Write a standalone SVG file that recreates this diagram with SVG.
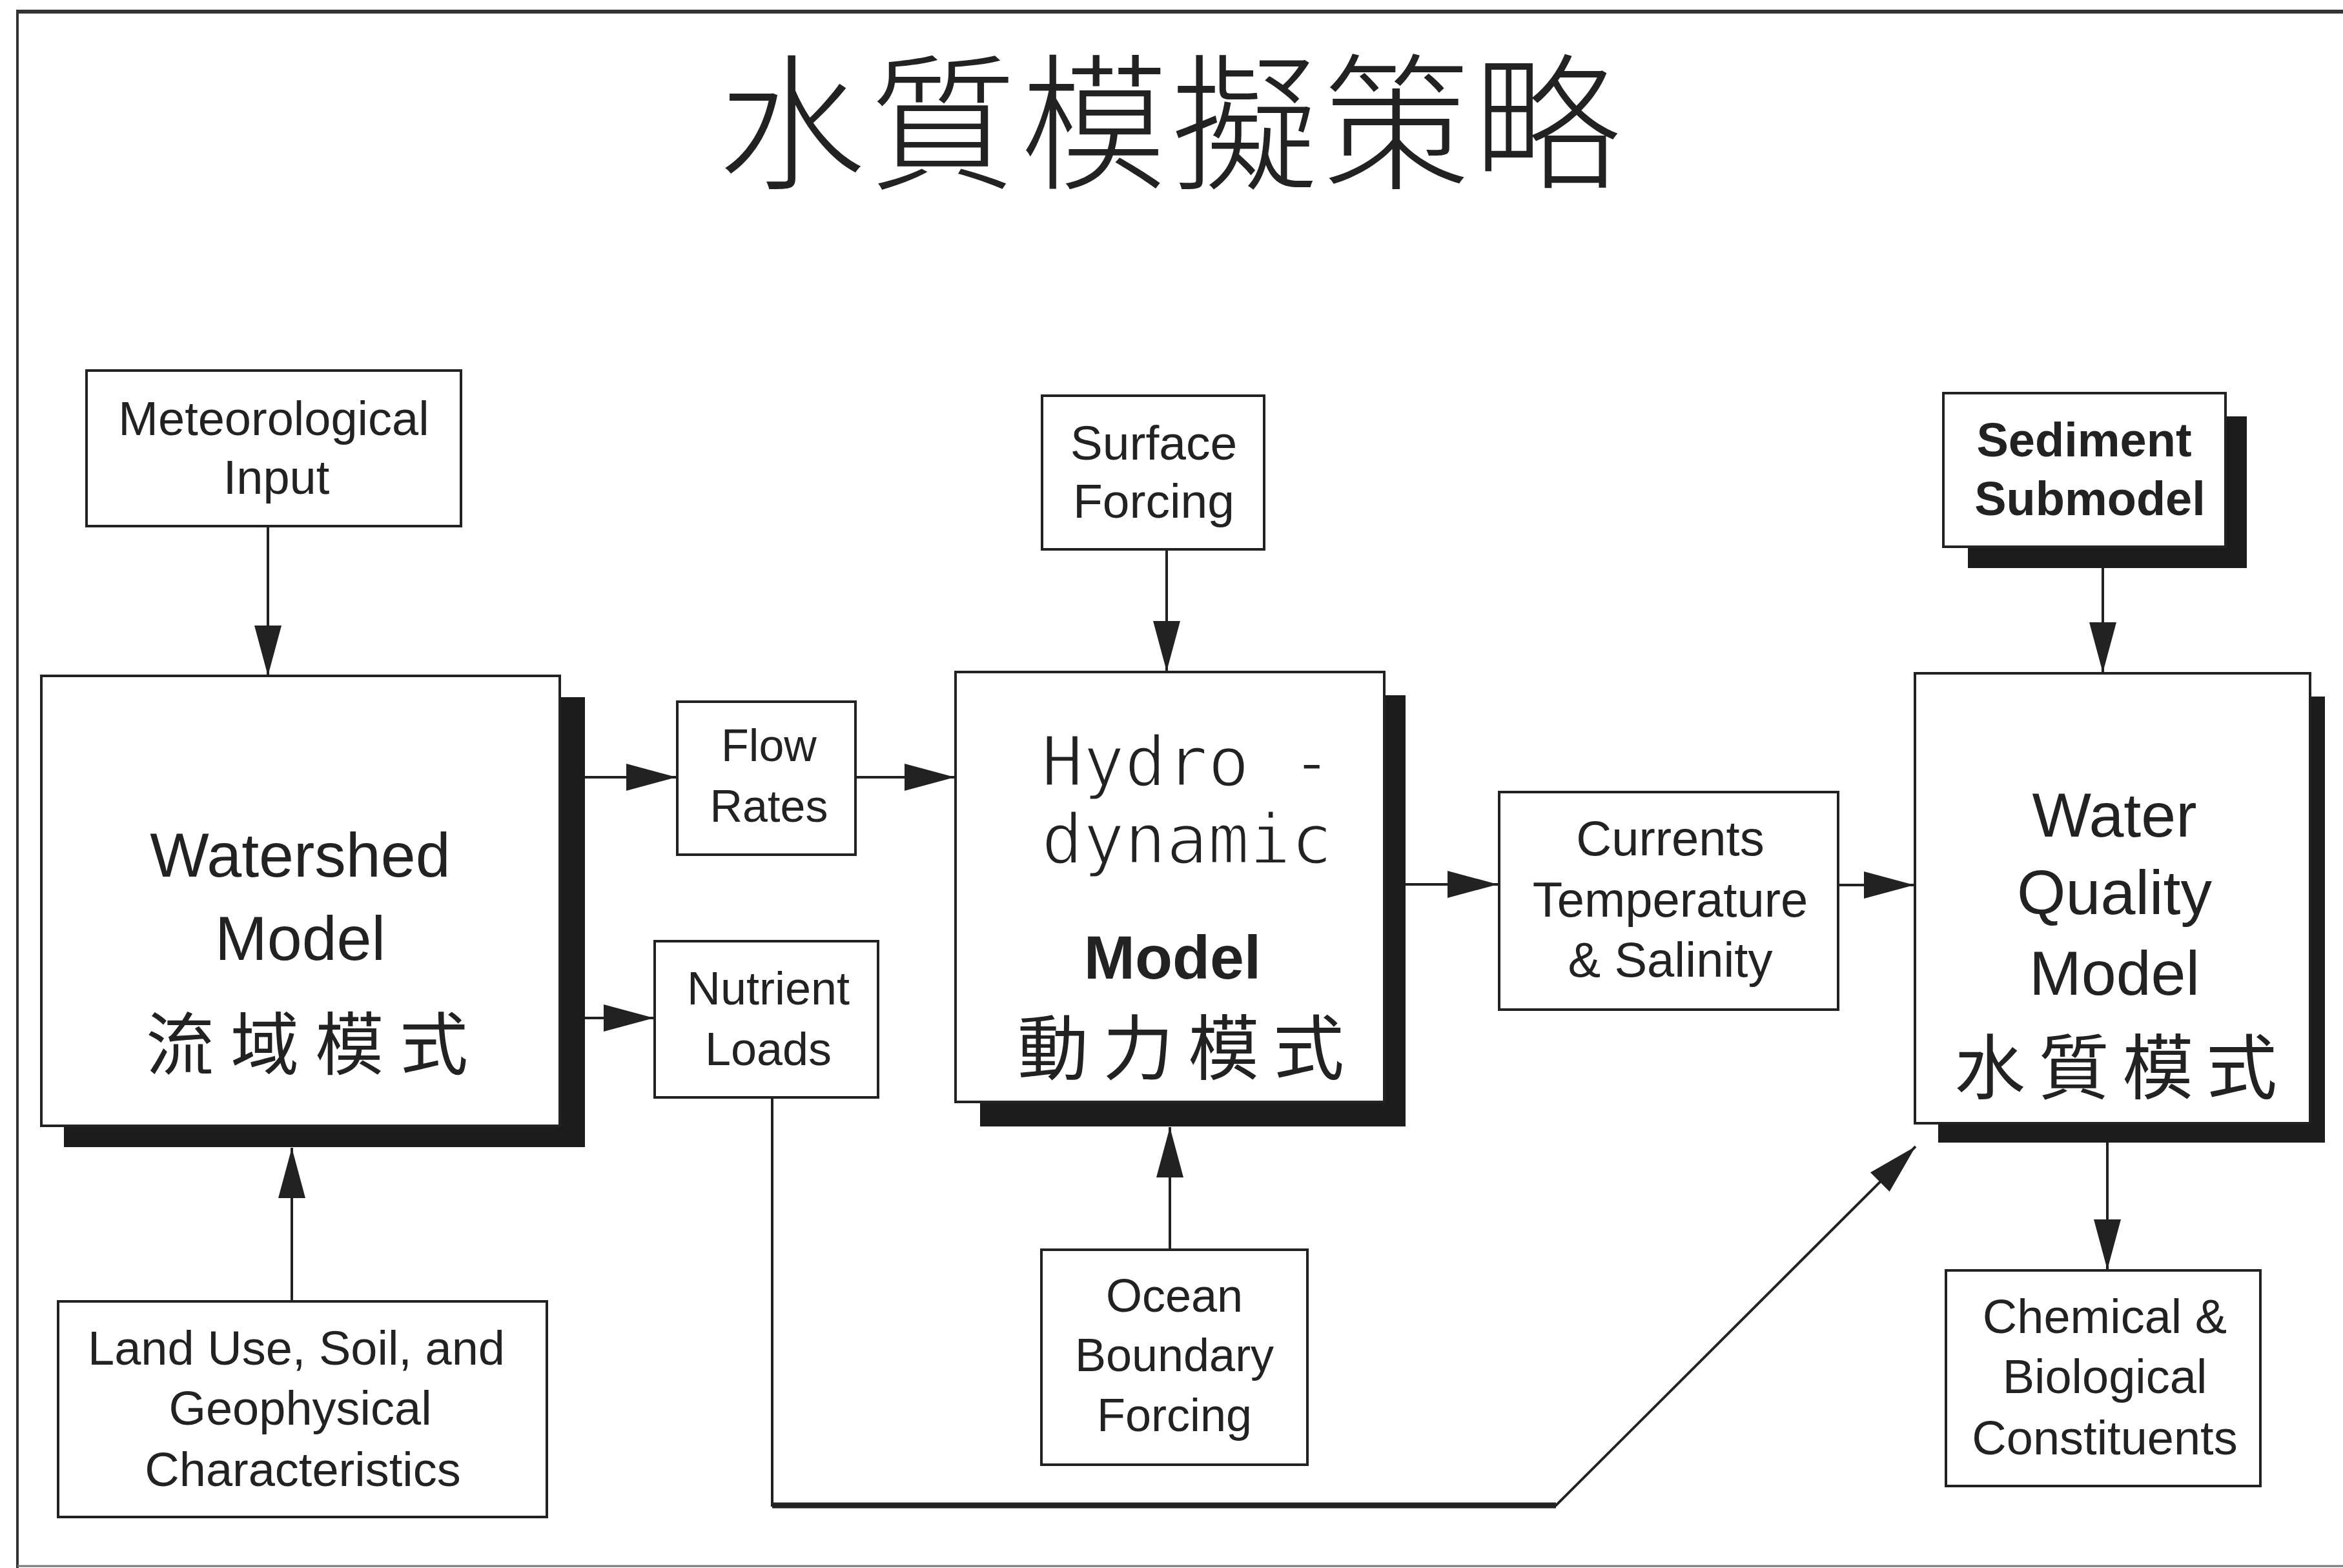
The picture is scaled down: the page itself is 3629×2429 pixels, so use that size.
<svg xmlns="http://www.w3.org/2000/svg" width="3629" height="2429" viewBox="0 0 3629 2429">
<style>
.box{fill:#fff;stroke:#222;stroke-width:4}
.sh{fill:#1c1c1c}
.t{font-family:"Liberation Sans",Arial,sans-serif;fill:#222;text-anchor:middle}
.s{font-size:74px}
.b{font-size:97px}
.bold{font-weight:bold}
.mono{font-family:"DejaVu Sans Mono","Liberation Mono",monospace;font-size:107px;fill:#222;stroke:#fff;stroke-width:3px}
.cjk{font-family:"Noto Sans CJK TC","Noto Sans CJK SC",sans-serif;fill:#222;text-anchor:middle}
.ln{fill:none;stroke:#222;stroke-width:4}
</style>
<defs>
<marker id="ah" markerUnits="userSpaceOnUse" markerWidth="80" markerHeight="46" viewBox="0 0 80 46" refX="78" refY="23" orient="auto">
<path d="M0,2 L78,23 L0,44 Z" fill="#222"/>
</marker>
</defs>
<rect width="3629" height="2429" fill="#fff"/>
<g id="frame">
<line x1="25" y1="18" x2="3629" y2="18" stroke="#333" stroke-width="6"/>
<line x1="27" y1="18" x2="27" y2="2429" stroke="#333" stroke-width="4"/>
<line x1="27" y1="2426" x2="3629" y2="2426" stroke="#777" stroke-width="3"/>
</g>
<g id="title">
<text class="cjk" x="1814" y="276" font-size="228" font-weight="300" letter-spacing="6">水質模擬策略</text>
</g>
<g id="connectors">
<line class="ln" x1="415" y1="815" x2="415" y2="1047" marker-end="url(#ah)"/>
<line class="ln" x1="452" y1="2016" x2="452" y2="1778" marker-end="url(#ah)"/>
<line class="ln" x1="906" y1="1204" x2="1048" y2="1204" marker-end="url(#ah)"/>
<line class="ln" x1="1325" y1="1204" x2="1479" y2="1204" marker-end="url(#ah)"/>
<line class="ln" x1="906" y1="1577" x2="1013" y2="1577" marker-end="url(#ah)"/>
<path class="ln" d="M1196,1700 L1196,2332 L2410,2332 L2967,1776" marker-end="url(#ah)"/>
<line x1="1196" y1="2332" x2="2410" y2="2332" stroke="#222" stroke-width="9"/>
<line class="ln" x1="1807" y1="851" x2="1807" y2="1040" marker-end="url(#ah)"/>
<line class="ln" x1="1812" y1="1936" x2="1812" y2="1746" marker-end="url(#ah)"/>
<line class="ln" x1="2177" y1="1370" x2="2320" y2="1370" marker-end="url(#ah)"/>
<line class="ln" x1="2847" y1="1371" x2="2965" y2="1371" marker-end="url(#ah)"/>
<line class="ln" x1="3257" y1="880" x2="3257" y2="1042" marker-end="url(#ah)"/>
<line class="ln" x1="3264" y1="1770" x2="3264" y2="1967" marker-end="url(#ah)"/>
</g>
<g id="meteorological">
<rect class="box" x="134" y="574" width="580" height="241"/>
<text class="t s" x="424" y="674" font-size="75">Meteorological</text>
<text class="t s" x="428" y="765" font-size="75">Input</text>
</g>
<g id="watershed">
<rect class="sh" x="99" y="1080" width="807" height="697"/>
<rect class="box" x="64" y="1047" width="803" height="697"/>
<text class="t b" x="465" y="1358">Watershed</text>
<text class="t b" x="465" y="1487">Model</text>
<text class="cjk" x="488" y="1656" font-size="106" letter-spacing="25">流域模式</text>
</g>
<g id="landuse">
<rect class="box" x="90" y="2016" width="757" height="334"/>
<text class="t s" x="459" y="2114">Land Use, Soil, and</text>
<text class="t s" x="465" y="2207">Geophysical</text>
<text class="t s" x="469" y="2302">Characteristics</text>
</g>
<g id="flowrates">
<rect class="box" x="1049" y="1087" width="276" height="237"/>
<text class="t" x="1191" y="1179" font-size="70">Flow</text>
<text class="t" x="1191" y="1273" font-size="70">Rates</text>
</g>
<g id="nutrient">
<rect class="box" x="1014" y="1458" width="346" height="242"/>
<text class="t" x="1190" y="1556" font-size="72">Nutrient</text>
<text class="t" x="1190" y="1650" font-size="72">Loads</text>
</g>
<g id="surface">
<rect class="box" x="1614" y="613" width="344" height="238"/>
<text class="t" x="1787" y="712" font-size="75">Surface</text>
<text class="t" x="1787" y="802" font-size="75">Forcing</text>
</g>
<g id="hydrodynamic">
<rect class="sh" x="1518" y="1077" width="659" height="668"/>
<rect class="box" x="1480" y="1041" width="664" height="666"/>
<text class="mono" x="1613" y="1217" xml:space="preserve">Hydro -</text>
<text class="mono" x="1613" y="1337">dynamic</text>
<text class="t bold" x="1816" y="1516" font-size="95">Model</text>
<text class="cjk" x="1840" y="1664" font-size="110" letter-spacing="22">動力模式</text>
</g>
<g id="ocean">
<rect class="box" x="1613" y="1936" width="412" height="333"/>
<text class="t" x="1819" y="2032" font-size="72">Ocean</text>
<text class="t" x="1819" y="2124" font-size="72">Boundary</text>
<text class="t" x="1819" y="2217" font-size="72">Forcing</text>
</g>
<g id="currents">
<rect class="box" x="2322" y="1227" width="525" height="337"/>
<text class="t" x="2587" y="1325" font-size="76">Currents</text>
<text class="t" x="2587" y="1420" font-size="76">Temperature</text>
<text class="t" x="2587" y="1513" font-size="76">&amp; Salinity</text>
</g>
<g id="sediment">
<rect class="sh" x="3048" y="645" width="432" height="235"/>
<rect class="box" x="3010" y="609" width="437" height="238"/>
<text class="t bold" x="3228" y="707" font-size="74">Sediment</text>
<text class="t bold" x="3237" y="798" font-size="74">Submodel</text>
</g>
<g id="waterquality">
<rect class="sh" x="3002" y="1079" width="599" height="691"/>
<rect class="box" x="2966" y="1043" width="612" height="697"/>
<text class="t b" x="3275" y="1296">Water</text>
<text class="t b" x="3275" y="1416">Quality</text>
<text class="t b" x="3275" y="1541">Model</text>
<text class="cjk" x="3287" y="1694" font-size="110" letter-spacing="20">水質模式</text>
</g>
<g id="chemical">
<rect class="box" x="3014" y="1968" width="487" height="334"/>
<text class="t s" x="3260" y="2065">Chemical &amp;</text>
<text class="t s" x="3260" y="2158">Biological</text>
<text class="t s" x="3260" y="2253">Constituents</text>
</g>
</svg>
